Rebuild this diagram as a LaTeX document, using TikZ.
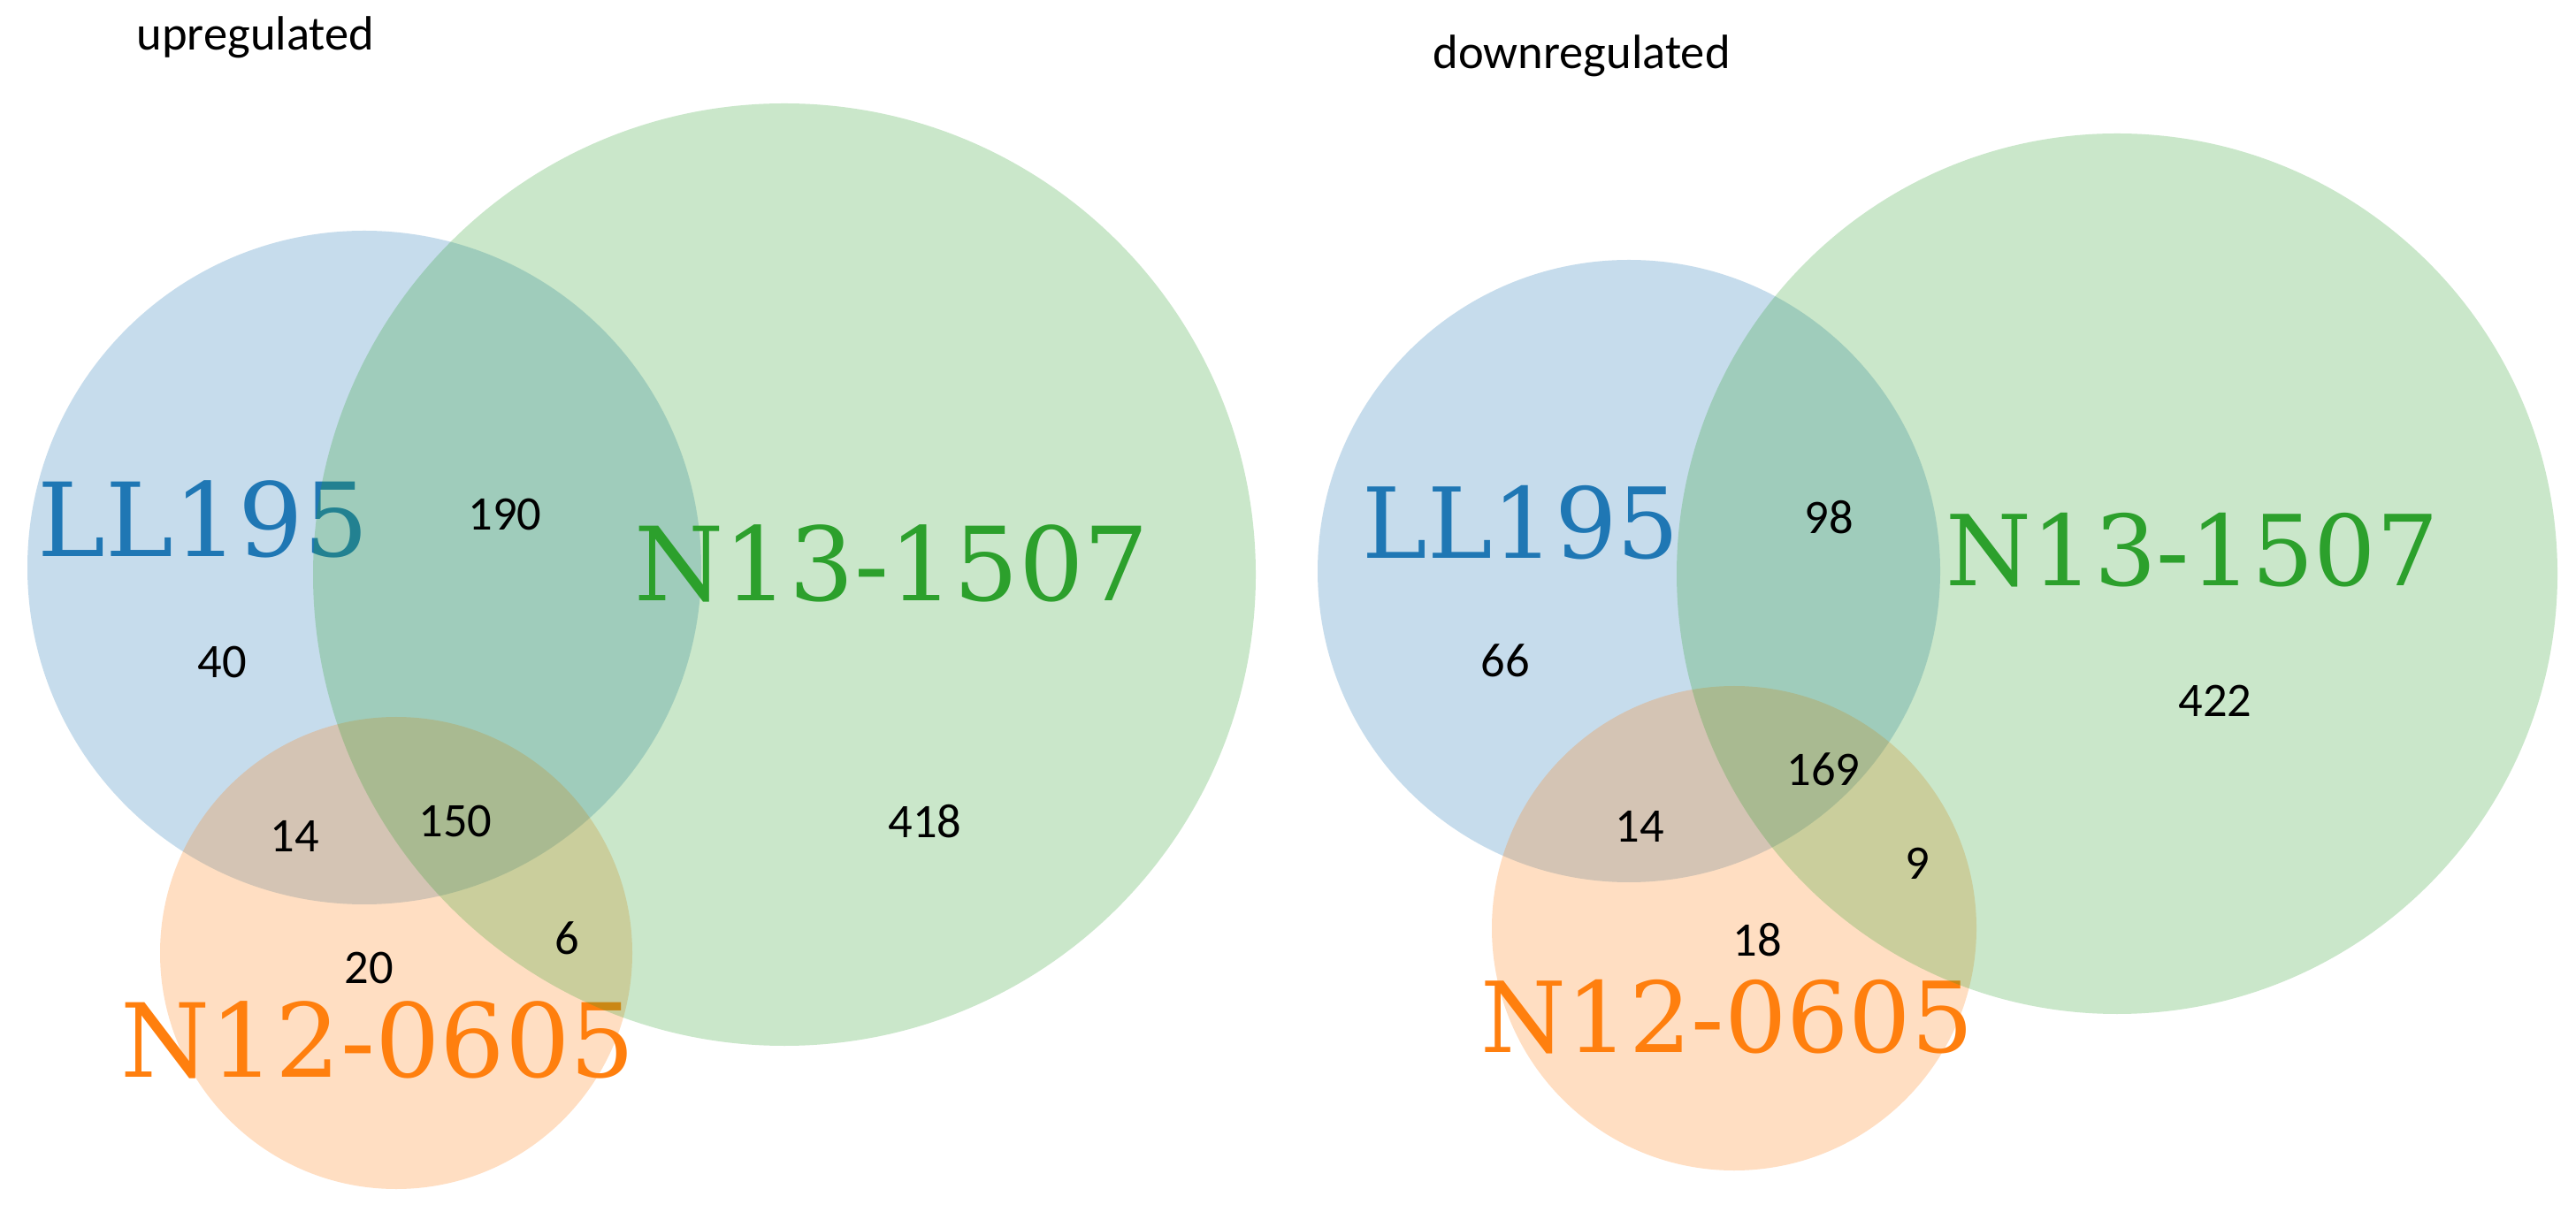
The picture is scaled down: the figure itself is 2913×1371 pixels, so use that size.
\documentclass[tikz,border=0pt]{standalone}
\usepackage{fontspec}
\setmainfont{Carlito}
\newfontfamily\labfont{DejaVu Serif}
\definecolor{tblue}{HTML}{1F77B4}
\definecolor{tgreen}{HTML}{2CA02C}
\definecolor{torange}{HTML}{FF7F0E}
\begin{document}
\begin{tikzpicture}[x=0.01cm,y=-0.01cm,
  setc/.style={fill opacity=0.25},
  num/.style={font=\fontsize{15.5}{18}\selectfont, inner sep=0},
  ttl/.style={font=\fontsize{15.5}{18}\selectfont, inner sep=0, anchor=base west},
  bigA/.style={font=\labfont\fontsize{32.9}{40}\selectfont, inner sep=0, anchor=base west},
  bigB/.style={font=\labfont\fontsize{31.5}{38}\selectfont, inner sep=0, anchor=base west}]
\useasboundingbox[fill=white] (0,0) rectangle (2913,1371);
% ---------- upregulated ----------
\fill[tblue, setc] (412,642) circle[radius=381];
\fill[torange, setc] (448,1078) circle[radius=267];
\node[bigA, text=tblue] (uL) at (42,630) {LL195};
\node[bigA, text=torange] (uO) at (136,1218) {N12-0605};
\fill[tgreen, setc] (887,650) circle[radius=533];
\node[bigA, text=tgreen] (uG) at (717,680) {N13-1507};
\node[ttl] (ut) at (154,57) {upregulated};
\node[num] (u190) at (571,582) {190};
\node[num] (u40) at (251,749) {40};
\node[num] (u14) at (333,946) {14};
\node[num] (u150) at (515,929) {150};
\node[num] (u418) at (1046,929) {418};
\node[num] (u20) at (417,1095) {20};
\node[num] (u6) at (641,1061) {6};
% ---------- downregulated ----------
\fill[tblue, setc] (1842,646) circle[radius=352];
\fill[torange, setc] (1961,1050) circle[radius=274];
\node[bigB, text=tblue] (dL) at (1540,632) {LL195};
\node[bigB, text=torange] (dO) at (1674,1190) {N12-0605};
\fill[tgreen, setc] (2394,649) circle[radius=498];
\node[bigB, text=tgreen] (dG) at (2200,663) {N13-1507};
\node[ttl] (dt) at (1620,78) {downregulated};
\node[num] (d98) at (2068,585) {98};
\node[num] (d66) at (1702,747) {66};
\node[num] (d422) at (2505,793) {422};
\node[num] (d169) at (2062,870) {169};
\node[num] (d14) at (1854,935) {14};
\node[num] (d9) at (2168,977) {9};
\node[num] (d18) at (1987,1063) {18};
\end{tikzpicture}
\end{document}
